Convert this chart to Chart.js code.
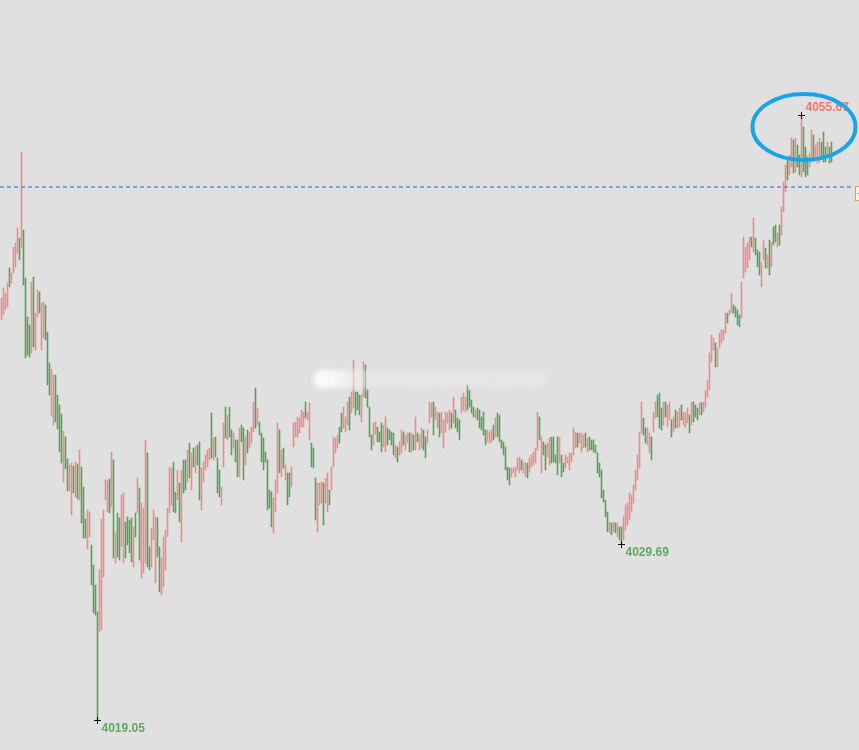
<!DOCTYPE html>
<html>
<head>
<meta charset="utf-8">
<script src="https://cdn.jsdelivr.net/npm/chart.js@4/dist/chart.umd.min.js"></script>
<style>
html,body{margin:0;padding:0;background:#e0e0e0;overflow:hidden;}
canvas{display:block;}
</style>
</head>
<body>
<canvas id="c" width="859" height="750"></canvas>
<script>
// Bar highs (price)
const high = [
4044.59,4045.20,4044.89,4045.50,4046.41,4046.11,4047.68,4047.92,4048.83,4048.22,
4053.43,4048.71,4045.80,4043.44,4042.96,4045.56,4045.86,4043.68,4045.08,4044.96,
4044.29,4044.35,4044.17,4042.53,4040.66,4040.29,4039.93,4039.93,4038.72,4038.12,
4037.57,4036.54,4036.18,4034.85,4034.48,4034.60,4034.42,4034.66,4034.54,4035.39,
4034.36,4033.15,4031.21,4031.76,4031.64,4029.64,4028.43,4027.22,4025.59,4028.13,
4031.21,4031.76,4033.58,4033.52,4033.64,4035.27,4034.79,4030.37,4031.58,4031.28,
4032.67,4032.79,4031.03,4031.34,4031.15,4031.28,4030.73,4031.58,4033.70,4033.09,
4032.18,4031.88,4036.00,4035.21,4029.52,4030.67,4031.76,4031.34,4031.28,4029.52,
4028.85,4030.13,4030.55,4031.88,4034.36,4034.30,4034.66,4032.85,4034.18,4033.39,
4034.18,4034.79,4034.79,4035.39,4035.81,4035.21,4035.51,4035.57,4035.69,4035.88,
4034.30,4034.66,4035.09,4035.39,4035.51,4037.63,4036.12,4036.18,4034.91,4034.18,
4033.15,4037.03,4037.99,4037.51,4037.99,4036.60,4036.42,4036.00,4036.00,4036.72,
4036.90,4036.72,4036.18,4036.60,4036.48,4036.78,4038.30,4039.14,4037.93,4037.09,
4036.42,4036.12,4035.27,4034.79,4032.97,4032.85,4032.49,4033.58,4037.03,4036.60,
4035.39,4035.51,4034.48,4034.00,4034.00,4034.36,4037.03,4037.09,4037.39,4037.33,
4037.81,4037.69,4038.30,4037.69,4038.24,4035.81,4035.51,4033.70,4033.39,4033.39,
4033.45,4033.39,4033.70,4034.00,4032.97,4034.36,4036.18,4036.12,4036.30,4036.78,
4037.63,4037.99,4037.39,4038.30,4038.60,4038.90,4040.84,4038.90,4038.90,4038.72,
4038.72,4040.72,4040.54,4039.02,4037.99,4036.30,4037.03,4037.09,4036.78,4036.48,
4037.03,4036.90,4037.39,4036.72,4036.60,4036.48,4036.42,4035.69,4035.57,4035.88,
4036.60,4036.48,4036.30,4036.42,4036.42,4036.42,4036.30,4037.39,4036.42,4036.30,
4036.72,4036.60,4036.18,4036.60,4038.30,4038.24,4038.30,4037.99,4037.69,4037.63,
4037.69,4037.21,4037.69,4037.63,4037.81,4037.63,4038.60,4037.81,4037.33,4037.21,
4038.60,4038.84,4038.60,4039.33,4039.02,4038.42,4037.99,4037.81,4037.93,4037.81,
4037.39,4037.69,4036.60,4036.60,4036.48,4036.60,4036.90,4037.33,4037.63,4037.51,
4036.00,4035.88,4035.57,4034.36,4034.30,4034.30,4034.30,4034.36,4034.91,4034.97,
4034.79,4034.66,4034.60,4034.60,4034.91,4035.09,4035.27,4035.51,4037.69,4037.39,
4036.18,4035.88,4035.69,4035.81,4036.12,4036.18,4036.18,4035.09,4036.18,4036.18,
4035.09,4034.60,4035.09,4034.97,4035.21,4035.21,4036.72,4036.48,4036.42,4036.42,
4036.42,4036.30,4036.42,4036.12,4036.18,4036.00,4036.00,4035.69,4035.21,4034.60,
4034.18,4032.97,4032.36,4031.64,4031.03,4030.97,4031.03,4030.97,4030.97,4030.73,
4030.73,4031.34,4032.06,4032.18,4032.79,4032.67,4033.27,4034.18,4035.09,4036.48,
4038.30,4037.33,4036.72,4036.72,4036.42,4036.18,4037.69,4038.30,4038.72,4038.84,
4037.93,4038.30,4038.30,4038.12,4038.30,4037.21,4037.39,4037.81,4037.69,4037.93,
4038.12,4037.69,4037.63,4037.93,4037.51,4038.30,4038.30,4038.12,4037.93,4038.24,
4038.24,4038.30,4039.02,4039.63,4041.26,4042.35,4042.17,4041.87,4041.57,4042.47,
4042.66,4042.66,4043.68,4043.68,4043.87,4044.89,4044.17,4044.05,4043.87,4043.56,
4045.56,4048.28,4047.68,4047.92,4048.28,4048.28,4049.43,4048.22,4047.50,4047.38,
4046.77,4048.10,4047.62,4047.20,4048.10,4047.98,4048.89,4049.01,4048.53,4049.01,
4050.10,4051.61,4052.64,4053.07,4053.25,4054.28,4054.16,4054.28,4053.85,4053.25,
4055.67,4054.94,4053.73,4053.13,4053.37,4054.76,4054.46,4053.85,4054.03,4054.28,
4054.03,4054.64,4053.73,4054.03,4053.73,4054.03
];
// Bar lows (price)
const low = [
4043.26,4043.56,4043.87,4044.05,4045.26,4045.50,4046.11,4046.47,4047.32,4046.89,
4047.62,4045.38,4040.96,4041.14,4041.02,4041.26,4041.63,4041.44,4043.44,4043.68,
4041.44,4042.17,4042.05,4039.33,4038.72,4037.45,4036.90,4037.09,4036.66,4035.27,
4034.60,4033.45,4034.24,4032.91,4032.91,4031.46,4032.79,4032.55,4032.43,4032.36,
4030.97,4030.06,4030.06,4029.40,4030.12,4027.22,4025.53,4025.40,4019.05,4024.38,
4024.50,4027.70,4032.36,4031.64,4031.58,4031.94,4028.85,4028.55,4028.91,4028.73,
4029.52,4028.55,4028.85,4029.64,4029.16,4028.61,4028.31,4030.13,4031.58,4028.73,
4027.64,4027.95,4028.55,4028.31,4028.13,4028.31,4029.94,4027.34,4028.91,4026.80,
4026.61,4027.10,4028.13,4030.13,4031.58,4032.06,4031.64,4031.58,4032.36,4031.03,
4029.82,4032.79,4032.97,4033.45,4033.70,4032.97,4034.36,4034.00,4034.48,4032.36,
4031.76,4033.45,4034.18,4034.36,4034.79,4034.91,4034.79,4034.97,4032.79,4032.55,
4032.06,4034.36,4036.12,4036.00,4036.18,4035.09,4035.51,4034.66,4033.76,4033.76,
4035.88,4033.58,4034.48,4035.21,4035.51,4035.81,4036.48,4036.72,4036.90,4036.30,
4034.66,4034.18,4034.66,4031.76,4031.88,4030.73,4030.37,4031.64,4032.79,4034.00,
4033.76,4034.30,4033.58,4032.06,4032.55,4033.15,4035.57,4036.18,4036.18,4036.42,
4036.78,4036.78,4037.33,4037.21,4036.00,4034.36,4034.30,4031.15,4030.43,4032.06,
4032.18,4030.85,4032.18,4031.64,4032.06,4032.97,4034.36,4035.21,4035.51,4035.81,
4036.48,4036.72,4036.48,4036.90,4036.60,4037.63,4037.93,4037.51,4037.81,4037.51,
4037.09,4038.60,4038.54,4037.99,4036.18,4035.39,4035.69,4036.30,4035.88,4035.88,
4035.27,4035.57,4035.27,4035.69,4036.00,4035.69,4035.09,4034.91,4034.66,4035.09,
4035.21,4035.69,4035.39,4035.81,4035.27,4035.27,4035.39,4035.39,4035.88,4035.39,
4035.51,4035.39,4034.91,4035.81,4037.03,4037.39,4036.30,4037.21,4036.72,4036.18,
4036.42,4035.51,4036.48,4037.03,4036.60,4036.72,4037.03,4036.72,4036.48,4036.00,
4037.63,4037.81,4037.69,4037.81,4037.99,4037.63,4037.39,4037.33,4037.21,4036.72,
4036.60,4036.30,4035.69,4035.88,4035.81,4035.88,4036.00,4036.18,4036.18,4035.88,
4035.51,4035.09,4034.18,4033.58,4033.27,4033.76,4034.00,4033.76,4034.18,4034.00,
4034.18,4034.00,4033.76,4033.70,4034.06,4034.36,4034.48,4034.60,4035.39,4036.00,
4034.00,4035.09,4034.18,4034.97,4034.48,4034.60,4034.66,4034.60,4033.88,4034.60,
4033.76,4034.06,4034.30,4034.60,4034.18,4034.66,4035.09,4035.51,4035.57,4035.81,
4035.27,4035.51,4035.57,4035.27,4035.39,4035.39,4035.27,4035.21,4034.00,4033.76,
4032.49,4032.24,4031.34,4030.43,4030.37,4030.25,4030.43,4030.37,4030.13,4029.94,
4029.69,4029.94,4030.55,4030.85,4031.15,4031.64,4032.18,4032.97,4033.58,4034.30,
4036.42,4036.30,4035.81,4035.69,4035.21,4034.79,4036.48,4037.33,4037.39,4036.72,
4036.60,4036.90,4037.39,4036.78,4037.21,4036.18,4036.48,4036.72,4036.72,4036.78,
4037.21,4036.90,4036.72,4037.03,4036.42,4036.90,4037.09,4037.39,4037.21,4037.51,
4037.51,4037.69,4037.99,4038.60,4039.02,4040.72,4041.44,4040.42,4040.42,4041.57,
4041.87,4042.05,4042.47,4043.08,4043.56,4043.68,4043.68,4043.44,4042.96,4042.84,
4043.38,4045.80,4046.17,4046.41,4046.89,4047.68,4047.38,4047.20,4046.47,4045.98,
4045.26,4046.89,4046.41,4046.41,4045.98,4046.47,4047.80,4047.98,4047.68,4047.80,
4048.41,4049.80,4051.01,4051.73,4052.04,4052.52,4052.16,4052.22,4052.52,4052.04,
4051.92,4052.22,4051.92,4052.04,4052.52,4052.82,4053.07,4053.13,4052.76,4052.82,
4053.13,4052.82,4052.82,4053.07,4052.76,4052.82
];
// Bar direction: u = up (red), d = down (green)
const direction = (
"uuuuduuuud" + "udddduduud" + "uuddduuddd" + "dudduududu" + "ddduuddddu" +
"uuuudududd" + "uuddddudud" + "uuudduuudd" + "uuuuuuddud" + "uddudududd" +
"uuuuududdd" + "uududduddu" + "dduduuudud" + "dddddduuud" + "ududduuuuu" +
"uuduuddduu" + "uduuduuuud" + "duuuduuddd" + "uudddduudd" + "duuddddudu" +
"uduudududu" + "udduuuduud" + "uuuuududdd" + "uuuddddudd" + "ddduuududd" +
"ddddduuuuu" + "duuduuuuud" + "udduuddddu" + "dduuuuuudu" + "uududddddd" +
"ddddududud" + "duuuuuuuuu" + "udduuduudd" + "duduududuu" + "duuududddu" +
"duuuuuuduu" + "uuuduudddd" + "uuuuududdd" + "uudududdud" + "uuuduududd" +
"uddduuduuu" + "dddudd"
).split("");
// Marked price level (dashed line)
const refLine = 4051.31;

const UP = '#f08a8a', DOWN = '#55a155';
const Y_MIN = 4017.23, Y_MAX = 4062.63;

const overlay = {
  id: 'overlay',
  afterDatasetsDraw(chart) {
    const {ctx} = chart;
    const xs = chart.scales.x, ys = chart.scales.y;
    ctx.save();
    // watermark (blurred)
    ctx.filter = 'blur(2.5px)';
    const wg = ctx.createLinearGradient(313, 0, 546, 0);
    wg.addColorStop(0, 'rgba(255,255,255,0.95)');
    wg.addColorStop(0.12, 'rgba(250,250,250,0.75)');
    wg.addColorStop(0.2, 'rgba(238,238,238,0.5)');
    wg.addColorStop(1, 'rgba(236,236,236,0.45)');
    ctx.fillStyle = wg;
    ctx.beginPath();
    ctx.roundRect(314, 370, 232, 18, 8);
    ctx.fill();
    ctx.filter = 'none';

    // dashed reference line
    const yl = Math.round(ys.getPixelForValue(refLine));
    ctx.strokeStyle = 'rgba(70,130,225,0.85)';
    ctx.lineWidth = 1.6;
    ctx.setLineDash([4, 3]);
    ctx.beginPath();
    ctx.moveTo(0, yl); ctx.lineTo(854, yl);
    ctx.stroke();
    ctx.setLineDash([]);

    // orange price tag at right edge
    ctx.fillStyle = '#fbf3ea';
    ctx.strokeStyle = '#f09a30';
    ctx.lineWidth = 1;
    ctx.fillRect(855.5, yl - 0.5, 8, 14);
    ctx.strokeRect(855.5, yl - 0.5, 8, 14);
    ctx.fillStyle = '#f09a30';
    ctx.fillRect(857, yl + 6, 2, 1);

    // extremes
    let iMax = 0, iMin = 0;
    high.forEach((v, i) => { if (v > high[iMax]) iMax = i; });
    low.forEach((v, i) => { if (v < low[iMin]) iMin = i; });
    let iLoc = 250;
    for (let i = 250; i < 360; i++) if (low[i] < low[iLoc]) iLoc = i;

    const marks = [
      {i: iMax, v: high[iMax], color: '#f07676', dy: -8},
      {i: iLoc, v: low[iLoc], color: '#62a862', dy: 8},
      {i: iMin, v: low[iMin], color: '#62a862', dy: 8}
    ];
    ctx.font = 'bold 12px "Liberation Sans", Arial, sans-serif';
    ctx.textBaseline = 'middle';
    ctx.textAlign = 'left';
    marks.forEach(m => {
      const px = Math.floor(xs.getPixelForValue(m.i)) + 0.5;
      const py = Math.round(ys.getPixelForValue(m.v)) + 0.5;
      ctx.strokeStyle = '#111';
      ctx.lineWidth = 1;
      ctx.beginPath();
      ctx.moveTo(px - 3.5, py); ctx.lineTo(px + 3.5, py);
      ctx.moveTo(px, py - 3.5); ctx.lineTo(px, py + 3.5);
      ctx.stroke();
      ctx.fillStyle = m.color;
      ctx.fillText(m.v.toFixed(2), px + 4, py + m.dy);
    });

    // highlight ellipse around the top
    const ex = xs.getPixelForValue(iMax) + 2.5;
    const ey = ys.getPixelForValue(high[iMax]) + 12;
    ctx.strokeStyle = '#1ba3ea';
    ctx.lineWidth = 4;
    ctx.beginPath();
    ctx.ellipse(ex, ey, 51.5, 33, 0, 0, Math.PI * 2);
    ctx.stroke();
    ctx.restore();
  }
};

new Chart(document.getElementById('c'), {
  type: 'bar',
  data: {
    datasets: [{
      data: high.map((h, i) => ({x: i, y: [low[i], h]})),
      backgroundColor: direction.map(d => d === 'u' ? UP : DOWN),
      borderWidth: 0,
      barThickness: 1,
      inflateAmount: 0.3,
      borderSkipped: false
    }]
  },
  options: {
    responsive: false,
    animation: false,
    devicePixelRatio: 1,
    layout: {padding: 0},
    plugins: {legend: {display: false}, tooltip: {enabled: false}},
    scales: {
      x: {type: 'linear', min: -0.75, max: 428.75, offset: false, display: false, grid: {offset: false}},
      y: {min: Y_MIN, max: Y_MAX, display: false}
    }
  },
  plugins: [overlay, {
    id: 'bg',
    beforeDraw(chart) {
      const c = chart.ctx;
      c.save(); c.fillStyle = '#e0e0e0'; c.fillRect(0, 0, chart.width, chart.height); c.restore();
    }
  }]
});
</script>
</body>
</html>
